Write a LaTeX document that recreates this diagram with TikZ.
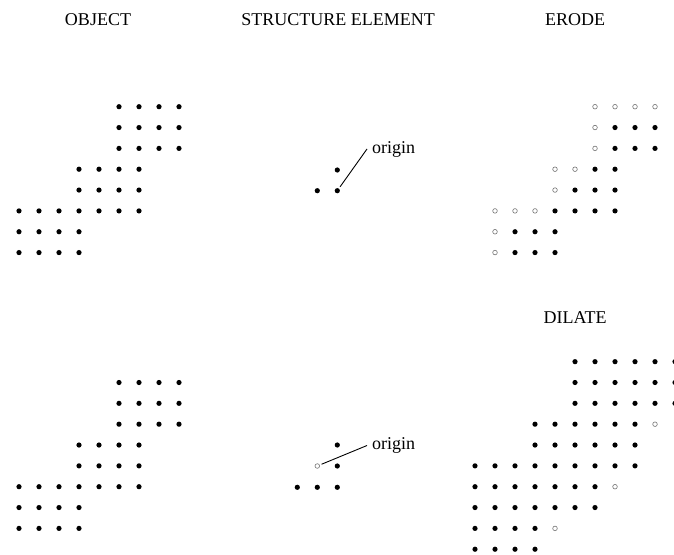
\documentclass[tikz,border=0pt]{standalone}
\usepackage{fontspec}
\setmainfont{Liberation Serif}
\usetikzlibrary{positioning}
\tikzset{
  dot/.style={circle, fill=black, inner sep=0pt, minimum size=5.2pt},
  hole/.style={circle, draw=black!55, fill=white, line width=0.6pt, inner sep=0pt, minimum size=4.6pt},
  heading/.style={anchor=base, inner sep=0pt},
  pointer/.style={line width=0.9pt, shorten <=2pt},
}
\newcommand{\labelfont}{\fontsize{18}{22}\selectfont}

\begin{document}
\begin{tikzpicture}[x=1pt, y=-1pt, font=\labelfont]
\useasboundingbox (0,0) rectangle (674,554);

\node[heading] (tobj) at (98,25) {OBJECT};
\node[heading] (tse) at (338,25) {STRUCTURE ELEMENT};
\node[heading] (ter) at (575,25) {ERODE};
\node[heading] (tdi) at (575,323.3) {DILATE};

% object, top
\begin{scope}[shift={(19pt,-106.7pt)}, x=20pt, y=-20.84pt]
\foreach \r/\a/\b in {0/5/8,1/5/8,2/5/8,3/3/6,4/3/6,5/0/6,6/0/3,7/0/3}
  \foreach \c in {\a,...,\b}
    \node[dot] (oa-\r-\c) at (\c,\r) {};
\end{scope}

% structure element, top
\node[dot] (sa-o) at (337.3,190.7) {};
\node[dot] (sa-l) at (317.3,190.7) {};
\node[dot] (sa-u) at (337.3,170) {};
\node[anchor=west, inner sep=5pt] (sa-lab) at (367,149) {origin};
\draw[pointer] (sa-o) -- (sa-lab.west);

% erode
\begin{scope}[shift={(495pt,-106.7pt)}, x=20pt, y=-20.84pt]
\foreach \r/\a/\b in {1/6/8,2/6/8,3/5/6,4/4/6,5/3/6,6/1/3,7/1/3}
  \foreach \c in {\a,...,\b}
    \node[dot] (er-\r-\c) at (\c,\r) {};
\foreach \c/\r in {5/0,6/0,7/0,8/0,5/1,5/2,3/3,4/3,3/4,0/5,1/5,2/5,0/6,0/7}
  \node[hole] (eh-\r-\c) at (\c,\r) {};
\end{scope}

% object, bottom
\begin{scope}[shift={(19pt,-382.5pt)}, x=20pt, y=-20.84pt]
\foreach \r/\a/\b in {0/5/8,1/5/8,2/5/8,3/3/6,4/3/6,5/0/6,6/0/3,7/0/3}
  \foreach \c in {\a,...,\b}
    \node[dot] (ob-\r-\c) at (\c,\r) {};
\end{scope}

% structure element, bottom
\node[hole] (sb-o) at (317.3,466) {};
\node[dot] (sb-1) at (297.3,487.3) {};
\node[dot] (sb-2) at (317.3,487.3) {};
\node[dot] (sb-3) at (337.3,487.3) {};
\node[dot] (sb-4) at (337.3,466) {};
\node[dot] (sb-5) at (337.3,445) {};
\node[anchor=west, inner sep=5pt] (sb-lab) at (367,445.5) {origin};
\draw[pointer] (sb-o) -- (sb-lab.west);

% dilate
\begin{scope}[shift={(495pt,-382.5pt)}, x=20pt, y=-20.84pt]
\foreach \r/\a/\b in {-1/4/9,0/4/9,1/4/9,2/2/7,3/2/7,4/-1/7,5/-1/5,6/-1/5,7/-1/2,8/-1/2}
  \foreach \c in {\a,...,\b}
    \node[dot] (di-\r-\c) at (\c,\r) {};
\foreach \c/\r in {8/2,6/5,3/7}
  \node[hole] (dh-\r-\c) at (\c,\r) {};
\end{scope}
\end{tikzpicture}
\end{document}
